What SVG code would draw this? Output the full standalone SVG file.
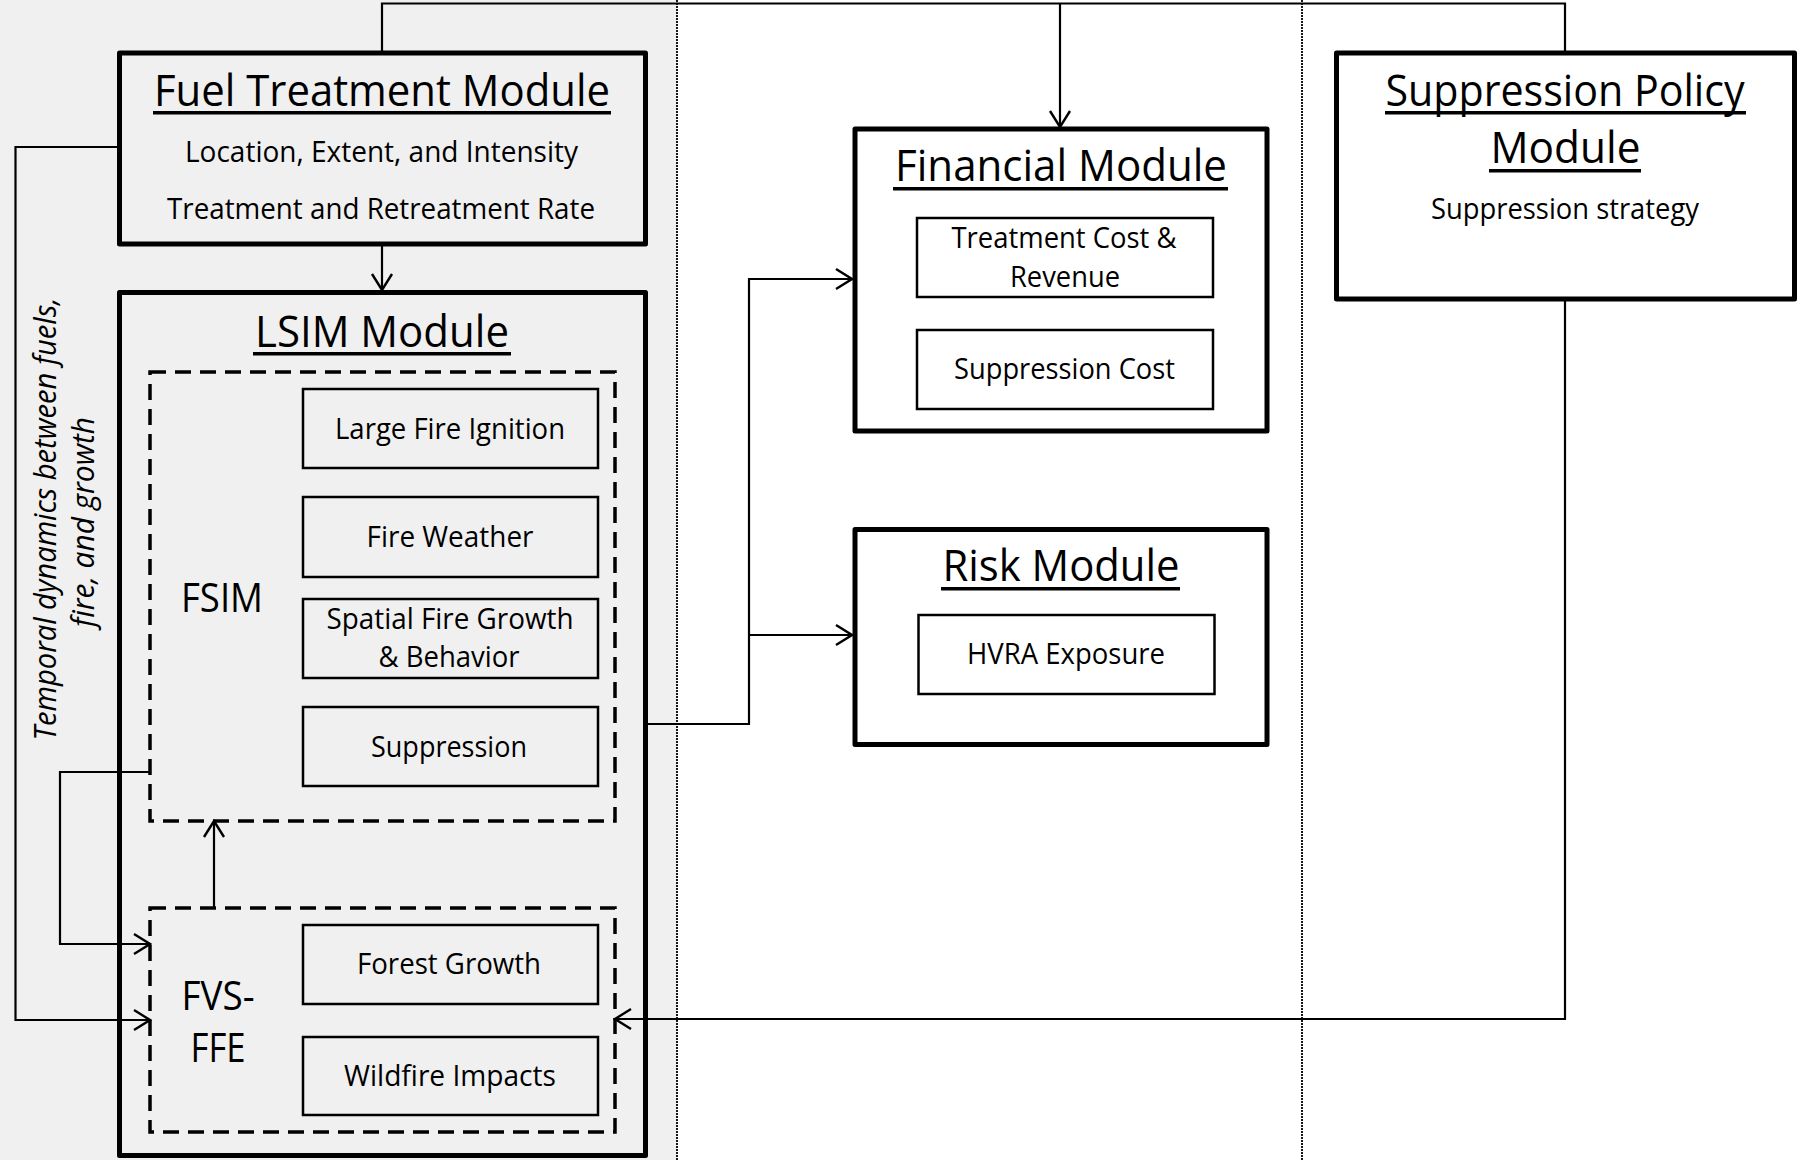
<svg xmlns="http://www.w3.org/2000/svg" width="1805" height="1160" viewBox="0 0 1805 1160">
<defs>
<style>
.t{font-family:"Open Sans","Noto Sans","Liberation Sans",sans-serif;fill:#000;text-anchor:middle}
.h{font-size:44px}
.s{font-size:30px}
.b{font-size:30px}
.l{font-size:40px}
.r{font-size:31px;font-style:italic}
.big{fill:none;stroke:#000;stroke-width:5;stroke-linejoin:round}
.in{stroke:#000;stroke-width:2.5}
.dash{fill:none;stroke:#000;stroke-width:3.5;stroke-dasharray:16 9}
.c{fill:none;stroke:#000;stroke-width:2.2}
.dot{fill:none;stroke:#000;stroke-width:1.8;stroke-dasharray:2 1}
.ul{fill:#000}
</style>
<marker id="arr" viewBox="-18 -12 20 24" refX="0" refY="0" markerWidth="20" markerHeight="24" markerUnits="userSpaceOnUse" orient="auto">
<path d="M-16,-10 L0,0 L-16,10" fill="none" stroke="#000" stroke-width="2.4"/>
</marker>
</defs>

<rect x="0" y="0" width="1805" height="1160" fill="#fff"/>
<rect x="0" y="0" width="677" height="1160" fill="#f0f0f0"/>
<line class="dot" x1="677" y1="0" x2="677" y2="1160"/>
<line class="dot" x1="1302" y1="0" x2="1302" y2="1160"/>

<g id="fuel-treatment-module">
<rect class="big" x="119.5" y="53" width="526" height="191" fill="#f0f0f0"/>
<text class="t h" x="382" y="106" textLength="456" lengthAdjust="spacingAndGlyphs">Fuel Treatment Module</text>
<rect class="ul" x="153" y="111" width="458" height="3.5"/>
<text class="t s" x="381.5" y="162" textLength="393" lengthAdjust="spacingAndGlyphs">Location, Extent, and Intensity</text>
<text class="t s" x="381" y="219" textLength="428" lengthAdjust="spacingAndGlyphs">Treatment and Retreatment Rate</text>
</g>

<g id="lsim-module">
<rect class="big" x="119.5" y="292.5" width="526" height="863" fill="#f0f0f0"/>
<text class="t h" x="382" y="347" textLength="254" lengthAdjust="spacingAndGlyphs">LSIM Module</text>
<rect class="ul" x="253" y="352" width="258" height="3.5"/>
</g>

<g id="fsim">
<rect class="dash" x="150" y="372" width="465" height="449"/>
<text class="t l" x="222" y="612" textLength="82" lengthAdjust="spacingAndGlyphs">FSIM</text>
</g>
<g id="large-fire-ignition">
<rect class="in" x="303" y="389" width="295" height="79" fill="#f0f0f0"/>
<text class="t b" x="450" y="439" textLength="230" lengthAdjust="spacingAndGlyphs">Large Fire Ignition</text>
</g>
<g id="fire-weather">
<rect class="in" x="303" y="497" width="295" height="80" fill="#f0f0f0"/>
<text class="t b" x="450" y="547" textLength="167" lengthAdjust="spacingAndGlyphs">Fire Weather</text>
</g>
<g id="spatial-fire-growth">
<rect class="in" x="303" y="599" width="295" height="79" fill="#f0f0f0"/>
<text class="t b" x="450" y="628.5" textLength="247" lengthAdjust="spacingAndGlyphs">Spatial Fire Growth</text>
<text class="t b" x="449" y="667" textLength="141" lengthAdjust="spacingAndGlyphs">&amp; Behavior</text>
</g>
<g id="suppression">
<rect class="in" x="303" y="707" width="295" height="79" fill="#f0f0f0"/>
<text class="t b" x="449" y="757" textLength="156" lengthAdjust="spacingAndGlyphs">Suppression</text>
</g>

<g id="fvs-ffe">
<rect class="dash" x="150" y="908" width="465" height="224"/>
<text class="t l" x="218" y="1010" textLength="73" lengthAdjust="spacingAndGlyphs">FVS-</text>
<text class="t l" x="218" y="1061.5" textLength="55" lengthAdjust="spacingAndGlyphs">FFE</text>
</g>
<g id="forest-growth">
<rect class="in" x="303" y="925" width="295" height="79" fill="#f0f0f0"/>
<text class="t b" x="449" y="974" textLength="184" lengthAdjust="spacingAndGlyphs">Forest Growth</text>
</g>
<g id="wildfire-impacts">
<rect class="in" x="303" y="1037" width="295" height="78" fill="#f0f0f0"/>
<text class="t b" x="450" y="1086" textLength="212" lengthAdjust="spacingAndGlyphs">Wildfire Impacts</text>
</g>

<g id="financial-module">
<rect class="big" x="855" y="129" width="412" height="302" fill="#fff"/>
<text class="t h" x="1061" y="181" textLength="332" lengthAdjust="spacingAndGlyphs">Financial Module</text>
<rect class="ul" x="893" y="187" width="335" height="3.5"/>
</g>
<g id="treatment-cost">
<rect class="in" x="917" y="218" width="296" height="79" fill="#fff"/>
<text class="t b" x="1064" y="248" textLength="225" lengthAdjust="spacingAndGlyphs">Treatment Cost &amp;</text>
<text class="t b" x="1065" y="287" textLength="110" lengthAdjust="spacingAndGlyphs">Revenue</text>
</g>
<g id="suppression-cost">
<rect class="in" x="917" y="330" width="296" height="79" fill="#fff"/>
<text class="t b" x="1064.5" y="379" textLength="221" lengthAdjust="spacingAndGlyphs">Suppression Cost</text>
</g>

<g id="risk-module">
<rect class="big" x="855" y="529.5" width="412" height="215" fill="#fff"/>
<text class="t h" x="1061" y="581" textLength="237" lengthAdjust="spacingAndGlyphs">Risk Module</text>
<rect class="ul" x="941" y="587" width="239" height="3.5"/>
</g>
<g id="hvra-exposure">
<rect class="in" x="918.5" y="615" width="296" height="79" fill="#fff"/>
<text class="t b" x="1066" y="664" textLength="198" lengthAdjust="spacingAndGlyphs">HVRA Exposure</text>
</g>

<g id="suppression-policy-module">
<rect class="big" x="1336.5" y="53" width="458" height="246" fill="#fff"/>
<text class="t h" x="1565" y="106" textLength="359" lengthAdjust="spacingAndGlyphs">Suppression Policy</text>
<rect class="ul" x="1385" y="111" width="361" height="3.5"/>
<text class="t h" x="1565.5" y="163" textLength="150" lengthAdjust="spacingAndGlyphs">Module</text>
<rect class="ul" x="1489" y="169" width="152" height="3.5"/>
<text class="t s" x="1565" y="219" textLength="268" lengthAdjust="spacingAndGlyphs">Suppression strategy</text>
</g>

<g id="temporal-label">
<text class="t r" transform="translate(56,519) rotate(-90)" x="0" y="0" textLength="443" lengthAdjust="spacingAndGlyphs">Temporal dynamics between fuels,</text>
<text class="t r" transform="translate(94,522) rotate(-90)" x="0" y="0" textLength="210" lengthAdjust="spacingAndGlyphs">fire, and growth</text>
</g>

<g id="connectors">
<path class="c" d="M382,51 V3.5 H1565 V53"/>
<path class="c" d="M1060,3.5 V127" marker-end="url(#arr)"/>
<path class="c" d="M382,244 V290" marker-end="url(#arr)"/>
<path class="c" d="M117,147 H15.5 V1020 H150" marker-end="url(#arr)"/>
<path class="c" d="M150,772 H60 V944 H150" marker-end="url(#arr)"/>
<path class="c" d="M214,908 V821" marker-end="url(#arr)"/>
<path class="c" d="M1565,301 V1019 H615" marker-end="url(#arr)"/>
<path class="c" d="M647,724 H749 V279 H852" marker-end="url(#arr)"/>
<path class="c" d="M749,635 H852" marker-end="url(#arr)"/>
</g>
</svg>
